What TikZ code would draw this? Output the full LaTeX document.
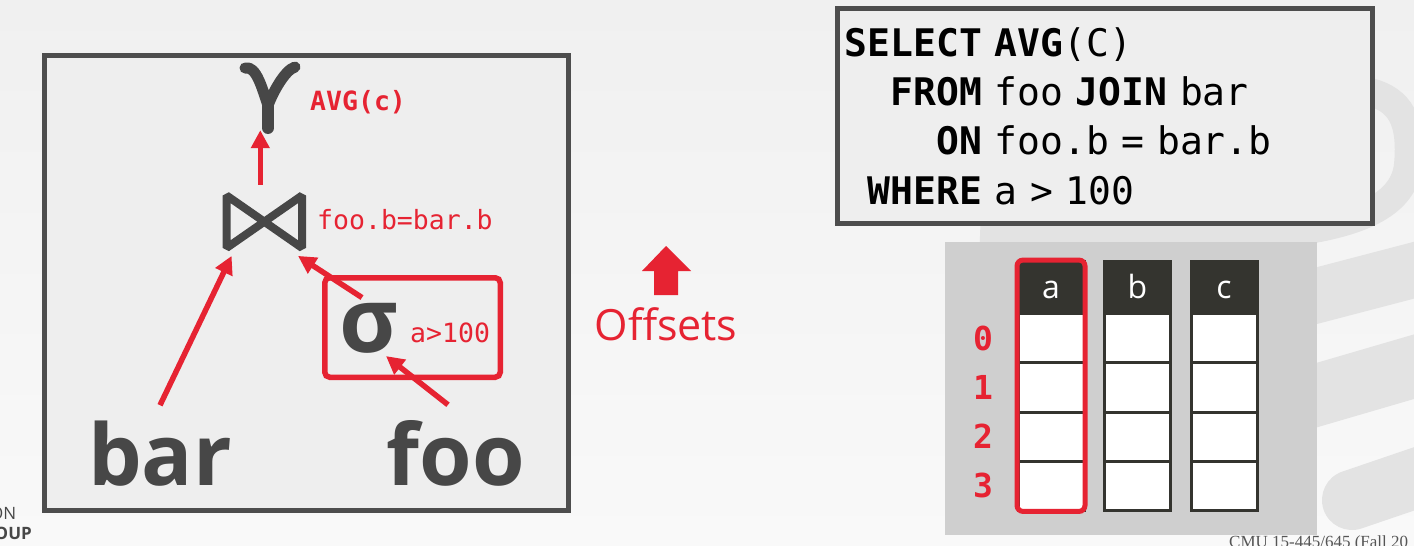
\documentclass[tikz,border=0pt]{standalone}
\usepackage{fontspec}
\setmainfont{Open Sans}
\newfontfamily\codefont{DejaVu Sans Mono}
\newfontfamily\footfont{Liberation Serif}
\usepackage{tikz}
\usetikzlibrary{shapes, arrows.meta, calc, fit}
\definecolor{dbred}{HTML}{E62332}
\definecolor{dbgray}{HTML}{474747}
\definecolor{boxfill}{HTML}{EEEEEE}
\definecolor{boxline}{HTML}{4D4D4D}
\definecolor{bgtop}{HTML}{F0F0F0}
\definecolor{bgbot}{HTML}{F9F9F9}
\definecolor{swirlgray}{HTML}{E3E3E3}
\definecolor{tablegray}{HTML}{CFCFCF}
\definecolor{headfill}{HTML}{34342F}
\definecolor{footgray}{HTML}{555555}
\tikzstyle{planbox} = [rectangle, draw=boxline, line width=5pt, fill=boxfill,
    minimum width=524pt, minimum height=455pt]
\tikzstyle{sqlbox} = [rectangle, draw=boxline, line width=5pt, fill=boxfill,
    text width=520pt, inner xsep=7.7pt, minimum height=214.5pt, align=left,
    font=\codefont\fontsize{38}{49.4}\selectfont]
\tikzstyle{operator} = [inner sep=0pt, text=dbgray, anchor=base,
    font=\bfseries\fontsize{90}{96}\selectfont]
\tikzstyle{symbol} = [draw=dbgray, line cap=round, line join=round]
\tikzstyle{relation} = [inner sep=0pt, text=dbgray, anchor=base,
    font=\bfseries\fontsize{85}{90}\selectfont]
\tikzstyle{predicate} = [inner sep=0pt, text=dbred, anchor=base west,
    font=\codefont\fontsize{26.5}{30}\selectfont]
\tikzstyle{selbox} = [rectangle, rounded corners=5pt, draw=dbred, line width=5.5pt,
    minimum width=175.5pt, minimum height=99.5pt]
\tikzstyle{colhead} = [rectangle, draw=headfill, fill=headfill, line width=3pt,
    minimum width=66pt, minimum height=52.5pt, inner sep=0pt, outer sep=0pt,
    text=white, text height=21.4pt, text depth=0pt, font=\fontsize{32}{36}\selectfont]
\tikzstyle{cell} = [rectangle, draw=headfill, fill=white, line width=3pt,
    minimum width=66pt, minimum height=49.2pt, inner sep=0pt, outer sep=0pt]
\tikzstyle{rowlabel} = [inner sep=0pt, text=dbred,
    font=\codefont\bfseries\fontsize{33}{36}\selectfont]
\tikzstyle{hilite} = [rectangle, rounded corners=6pt, draw=dbred, line width=5pt, inner sep=1pt]
\tikzstyle{swirl} = [draw=swirlgray]
\tikzstyle{line} = [draw=dbred, line width=5.5pt, -{Triangle[length=18pt, width=18pt]}]

\begin{document}
\begin{tikzpicture}[x=1pt, y=-1pt, node distance=86.5pt]
    % Background
    \useasboundingbox (0,0) rectangle (1414,546);
    \clip (0,0) rectangle (1414,546);
    \shade[top color=bgtop, bottom color=bgbot] (0,0) rectangle (1414,546);
    \draw[swirl, line width=28pt] (980,236) .. controls (1250,246) and (1400,240) .. (1408,165)
        .. controls (1412,120) and (1400,100) .. (1370,92);
    \draw[swirl, line width=55pt] (1300,300) -- (1430,266);
    \draw[swirl, line width=62pt] (1300,400) -- (1430,362);
    \draw[swirl, line width=60pt, line cap=round] (1352,500) -- (1440,470);
    % Nodes
    \node[planbox] (plan) at (306.5,283) {};
    \node[inner sep=0pt, minimum width=63pt, minimum height=64pt] (gamma) at (269.5,98) {};
    \draw[symbol, line width=11pt] ($(gamma)+(-24.5,-30)$) .. controls ($(gamma)+(-13,-33)$) and ($(gamma)+(-7,-8)$) .. ($(gamma)+(-1.5,7.5)$)
        .. controls ($(gamma)+(3.5,-6)$) and ($(gamma)+(15.5,-28)$) .. ($(gamma)+(25.5,-31)$);
    \draw[symbol, line width=12pt] ($(gamma)+(-1.5,7.5)$) -- ($(gamma)+(-1.5,30)$);
    \node[predicate, font=\codefont\bfseries\fontsize{26.5}{30}\selectfont] (aggr) at (310,110) {AVG(c)};
    \node[inner sep=0pt, minimum width=75pt, minimum height=52pt] (join) at (264.3,221.7) {};
    \draw[dbgray, line width=8pt, line join=bevel] (join.north west) -- (join.south east)
        -- (join.north east) -- (join.south west) -- cycle;
    \node[predicate] (cond) at (317,229) {foo.b=bar.b};
    \node[selbox] (select) at (412.5,327.5) {};
    \node[operator] (sigma) at (369,352) {σ};
    \node[predicate] (pred) at (410,342) {a>100};
    \node[relation] (bar) at (160,485) {bar};
    \node[relation] (foo) at (456,485) {foo};
    \node[inner sep=0pt, anchor=base, text=dbred, font=\fontsize{43}{48}\selectfont] (offsets) at (666,340) {Offsets};
    \fill[dbred] (654,295) -- (654,271) -- (642,271) -- (666,246) -- (691,271) -- (678,271) -- (678,295) -- cycle;
    \node[sqlbox] (sql) at (1104.7,116) {{\bfseries SELECT AVG}(C)\\
        \phantom{SE}{\bfseries FROM} foo {\bfseries JOIN} bar\\
        \phantom{SELE}{\bfseries ON} foo.b = bar.b\\
        \phantom{S}{\bfseries WHERE} a > 100};
    \node[fill=tablegray, minimum width=372pt, minimum height=293pt] (table) at (1131,388.5) {};
    \node[colhead] (ha) at (1051,287.3) {a};
    \node[colhead, right of=ha] (hb) {b};
    \node[colhead, right of=hb] (hc) {c};
    \node[cell, below of=ha, node distance=50.9pt] (a0) {};
    \node[cell, below of=a0, node distance=49.2pt] (a1) {};
    \node[cell, below of=a1, node distance=49.2pt] (a2) {};
    \node[cell, below of=a2, node distance=49.2pt] (a3) {};
    \node[cell, below of=hb, node distance=50.9pt] (b0) {};
    \node[cell, below of=b0, node distance=49.2pt] (b1) {};
    \node[cell, below of=b1, node distance=49.2pt] (b2) {};
    \node[cell, below of=b2, node distance=49.2pt] (b3) {};
    \node[cell, below of=hc, node distance=50.9pt] (c0) {};
    \node[cell, below of=c0, node distance=49.2pt] (c1) {};
    \node[cell, below of=c1, node distance=49.2pt] (c2) {};
    \node[cell, below of=c2, node distance=49.2pt] (c3) {};
    \node[hilite, fit=(ha)(a3)] (col) {};
    \node[rowlabel, left of=a0, node distance=68pt] (r0) {0};
    \node[rowlabel, left of=a1, node distance=68pt] (r1) {1};
    \node[rowlabel, left of=a2, node distance=68pt] (r2) {2};
    \node[rowlabel, left of=a3, node distance=68pt] (r3) {3};
    \node[inner sep=0pt, anchor=base west, text=footgray, font=\footfont\fontsize{17}{20}\selectfont] (course) at (1229,547) {CMU 15-445/645 (Fall 20};
    \node[inner sep=0pt, anchor=base east, text=dbgray, font=\fontsize{17}{20}\selectfont] (logoa) at (16.5,519) {ON};
    \node[inner sep=0pt, anchor=base east, text=dbgray, font=\bfseries\fontsize{17}{20}\selectfont] (logob) at (32,539) {OUP};
    % Edges
    \path [line] ([xshift=-4pt, yshift=11pt]join.north) -- ([xshift=-4pt]join.north |- gamma.south);
    \path [line] ([yshift=15pt]bar.north) -- ([xshift=5pt, yshift=-8pt]join.south west);
    \path [line] ([xshift=-7pt, yshift=5pt]sigma.north) -- ([xshift=-4pt, yshift=-8pt]join.south east);
    \path [line] ([xshift=-8pt, yshift=15pt]foo.north) -- ([xshift=17pt, yshift=-3pt]sigma.south);
\end{tikzpicture}
\end{document}
